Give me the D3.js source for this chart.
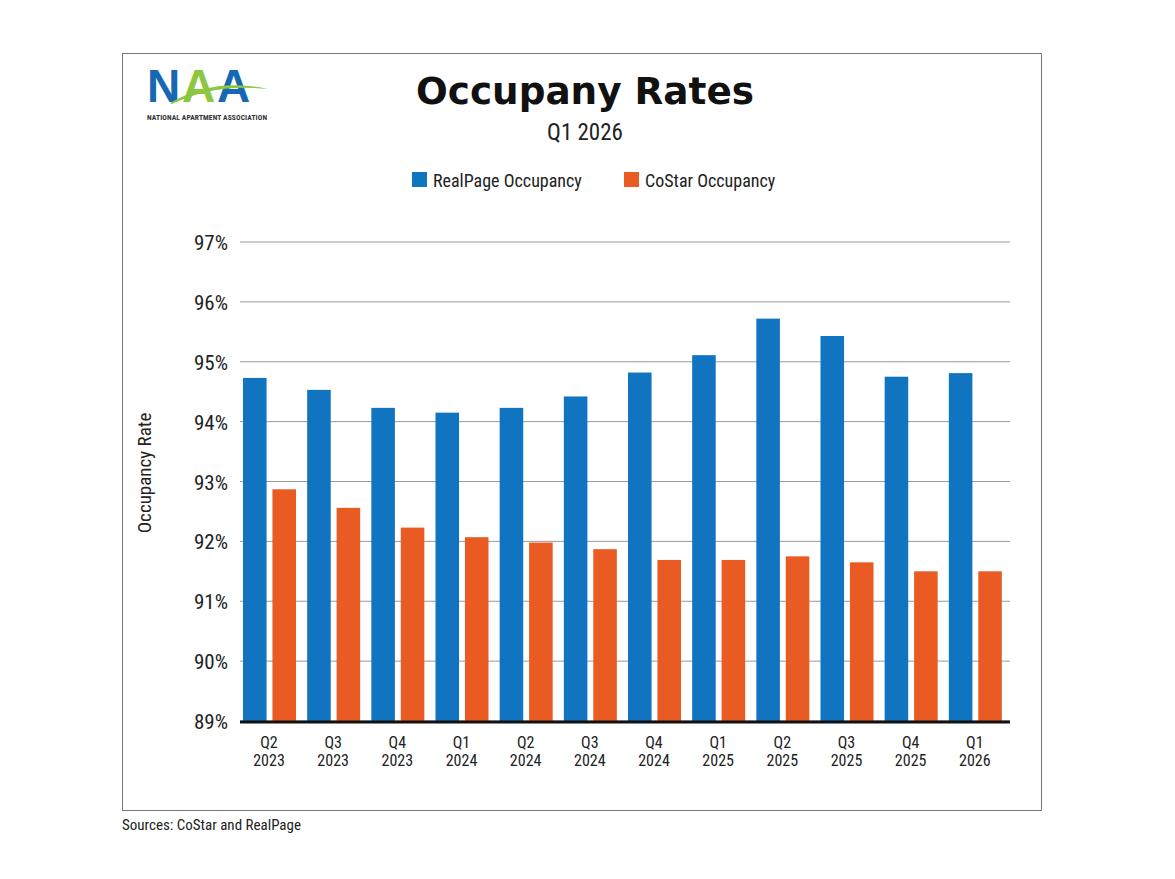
<!DOCTYPE html>
<html><head><meta charset="utf-8">
<script src="https://cdn.jsdelivr.net/npm/d3@7"></script>
<style>body{margin:0;background:#fff}text{font-family:"Roboto Condensed","Liberation Sans Narrow","Roboto",sans-serif}</style>
</head><body><svg id="c" width="1175" height="879"></svg>
<script>
const categories=["Q2 2023","Q3 2023","Q4 2023","Q1 2024","Q2 2024","Q3 2024","Q4 2024","Q1 2025","Q2 2025","Q3 2025","Q4 2025","Q1 2026"];
const realPage=[94.73,94.53,94.23,94.15,94.23,94.42,94.82,95.11,95.72,95.43,94.75,94.81];
const coStar=[92.87,92.56,92.23,92.07,91.98,91.87,91.69,91.69,91.75,91.65,91.50,91.50];
const yTicks=[89,90,91,92,93,94,95,96,97];
const seriesNames=["RealPage Occupancy","CoStar Occupancy"];
const colors=["#1174c0","#ea5b24"];

const svg=d3.select("#c");
svg.append("rect").attr("x",122.5).attr("y",53.5).attr("width",919).attr("height",757).attr("fill","none").attr("stroke","#777");
const L=240,R=1010,T=242,B=721;
const y=d3.scaleLinear().domain([89,97]).range([B,T]);
const x=d3.scaleBand().domain(categories).range([L,R]);
const x1=d3.scaleBand().domain([0,1]).range([3,56]).paddingInner(0.2).paddingOuter(0);

svg.append("g").selectAll("line").data(yTicks).join("line")
 .attr("x1",L).attr("x2",R).attr("y1",d=>y(d)).attr("y2",d=>y(d)).attr("stroke","#999").attr("stroke-width",1);
svg.append("g").selectAll("text").data(yTicks).join("text")
 .attr("x",228).attr("y",d=>y(d)+8).attr("text-anchor","end").attr("font-size",21).attr("fill","#222").text(d=>d+"%");

const g=svg.append("g");
[realPage,coStar].forEach((s,i)=>{
 g.selectAll(null).data(s).join("rect")
  .attr("x",(d,j)=>x(categories[j])+x1(i)).attr("width",x1.bandwidth())
  .attr("y",d=>y(d)).attr("height",d=>B-y(d)).attr("fill",colors[i]);
});
svg.append("line").attr("x1",L).attr("x2",R).attr("y1",B+1).attr("y2",B+1).attr("stroke","#111").attr("stroke-width",3);

categories.forEach(c=>{
 const [q,yr]=c.split(" ");
 const cx=x(c)+29;
 const t=svg.append("text").attr("text-anchor","middle").attr("font-size",16).attr("fill","#222");
 t.append("tspan").attr("x",cx).attr("y",748).text(q);
 t.append("tspan").attr("x",cx).attr("y",766).text(yr);
});

svg.append("text").attr("transform","translate(151,473) rotate(-90)").attr("text-anchor","middle").attr("font-size",19).attr("fill","#222").text("Occupancy Rate");

svg.append("text").attr("x",585).attr("y",104).attr("text-anchor","middle").attr("font-size",37).attr("font-weight","bold").style("font-family","'DejaVu Sans',sans-serif").attr("fill","#111").attr("textLength",338).attr("lengthAdjust","spacingAndGlyphs").text("Occupany Rates");
svg.append("text").attr("x",585).attr("y",140).attr("text-anchor","middle").attr("font-size",23).attr("fill","#222").text("Q1 2026");

const leg=[{x:412,n:0},{x:624,n:1}];
leg.forEach(l=>{
 svg.append("rect").attr("x",l.x).attr("y",172).attr("width",15).attr("height",15).attr("fill",colors[l.n]);
 svg.append("text").attr("x",l.x+21).attr("y",187).attr("font-size",18).attr("fill","#222").text(seriesNames[l.n]);
});

svg.append("text").attr("x",122).attr("y",830).attr("font-size",15).attr("fill","#222").text("Sources: CoStar and RealPage");

// logo
const lg=svg.append("g");
const lf="'Liberation Sans',sans-serif";
lg.append("text").attr("x",147).attr("y",102).attr("font-size",46).attr("font-weight","bold").style("font-family",lf).attr("fill","#1768b3").text("N");
lg.append("text").attr("x",182).attr("y",102).attr("font-size",46).attr("font-weight","bold").style("font-family",lf).attr("fill","#8dc63f").text("A");
lg.append("text").attr("x",217).attr("y",102).attr("font-size",46).attr("font-weight","bold").style("font-family",lf).attr("fill","#1768b3").text("A");
lg.append("path").attr("d","M170,103 Q215,77 268,89 Q215,83 172,104 Z").attr("fill","#8dc63f");
lg.append("text").attr("x",147).attr("y",120).attr("font-size",7.5).attr("font-weight","bold").attr("fill","#333").attr("textLength",120).text("NATIONAL APARTMENT ASSOCIATION");
</script></body></html>
